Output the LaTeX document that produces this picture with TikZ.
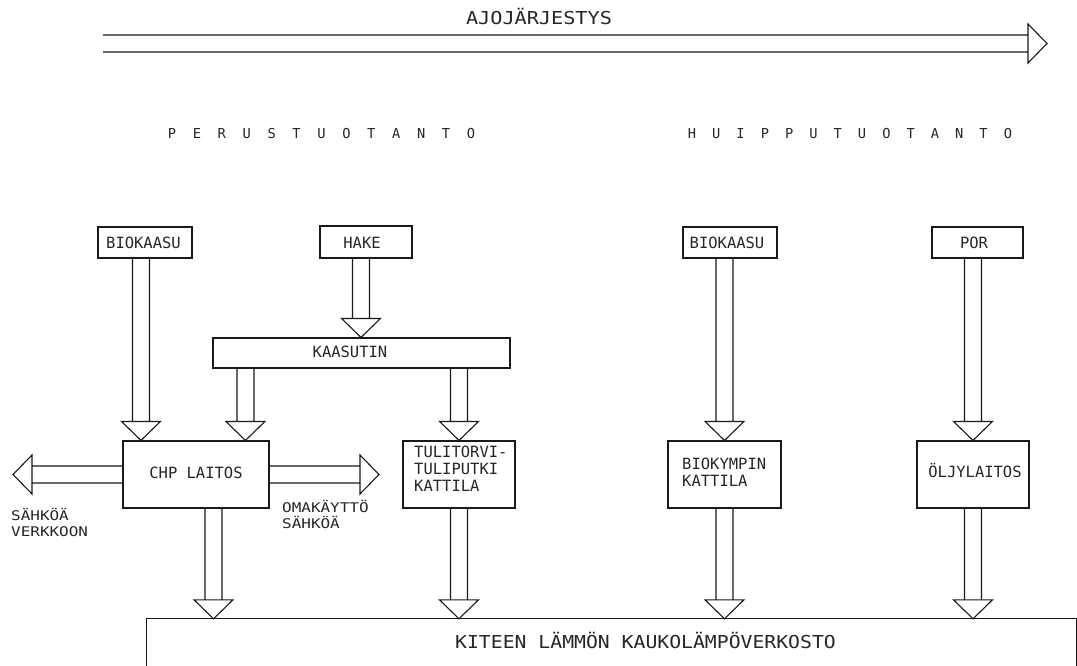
\documentclass[tikz,border=0pt]{standalone}
\usepackage{fontspec}
\newfontfamily\cadfont{DejaVu Sans Mono}
\usetikzlibrary{calc}

% hollow "pipe" arrow: two parallel shaft lines and an open triangular head
\newcommand\hollowarrow[2]{%
  \coordinate (ha-b) at ($(#2)!19pt!(#1)$);
  \draw[conn]
    ($(#1)!8.5pt!90:(#2)$) -- ($(ha-b)!8.5pt!90:(#2)$)
    ($(#1)!8.5pt!-90:(#2)$) -- ($(ha-b)!8.5pt!-90:(#2)$)
    ($(ha-b)!19.5pt!90:(#2)$) -- (#2) -- ($(ha-b)!19.5pt!-90:(#2)$) -- cycle;
}

\tikzset{
  conn/.style={draw=black!90, line width=1.1pt, line join=miter},
  box/.style={draw=black!90, line width=1.1pt, rectangle, inner sep=0pt},
  lbl/.style={inner sep=0pt, text=black!85, font=\cadfont\fontsize{15.5}{18}\selectfont},
  smalllbl/.style={inner sep=0pt, text=black!85, font=\cadfont\fontsize{13.3}{15}\selectfont},
  headlbl/.style={inner sep=0pt, text=black!85, font=\cadfont\fontsize{13.7}{16}\selectfont},
  biglbl/.style={inner sep=0pt, text=black!85, font=\cadfont\fontsize{17.8}{20}\selectfont},
}

\begin{document}
\begin{tikzpicture}[x=1pt,y=-1pt]
  \path[fill=white] (0,0) rectangle (1077,666);
  \useasboundingbox (0,0) rectangle (1077,666);

  % running order arrow
  \node[biglbl, anchor=base] (ajo) at (539,25) {\scalebox{1.135}[1]{AJOJÄRJESTYS}};
  \coordinate (ord-a) at (103,43.5);
  \coordinate (ord-b) at (1047,43.5);
  \hollowarrow{ord-a}{ord-b}

  % section headings, letter spaced
  \foreach \c [count=\i from 0] in {P,E,R,U,S,T,U,O,T,A,N,T,O}
    \node[headlbl, anchor=base] (peru-\i) at (172+24.92*\i,139) {\c};
  \foreach \c [count=\i from 0] in {H,U,I,P,P,U,T,U,O,T,A,N,T,O}
    \node[headlbl, anchor=base] (huip-\i) at (692+24.3*\i,139) {\c};

  % fuel boxes
  \node[box, minimum width=94pt, minimum height=31pt] (bio1) at (145,242.5) {};
  \node[lbl, anchor=base] (bio1-t) at (143.5,248) {BIOKAASU};
  \node[box, minimum width=92pt, minimum height=32pt] (hake) at (366,242) {};
  \node[lbl, anchor=base] (hake-t) at (362,248) {HAKE};
  \node[box, minimum width=94pt, minimum height=31pt] (bio2) at (730,242.5) {};
  \node[lbl, anchor=base] (bio2-t) at (727,248) {BIOKAASU};
  \node[box, minimum width=91pt, minimum height=31pt] (por) at (977.5,242.5) {};
  \node[lbl, anchor=base] (por-t) at (974,248) {POR};

  % gasifier
  \node[box, minimum width=297pt, minimum height=30pt] (kaasutin) at (361.5,353) {};
  \node[lbl, anchor=base] (kaasutin-t) at (350,357.7) {KAASUTIN};

  % production units
  \node[box, minimum width=146pt, minimum height=67pt] (chp) at (196,474.5) {};
  \node[lbl, anchor=base] (chp-t) at (196,478) {CHP LAITOS};
  \node[box, minimum width=112pt, minimum height=67pt] (tuli) at (459,474.5) {};
  \node[lbl, anchor=base west] (tuli-t1) at (414,457) {TULITORVI-};
  \node[lbl, anchor=base west] (tuli-t2) at (414,474) {TULIPUTKI};
  \node[lbl, anchor=base west] (tuli-t3) at (414,491) {KATTILA};
  \node[box, minimum width=113pt, minimum height=67pt] (biok) at (724.5,474.5) {};
  \node[lbl, anchor=base west] (biok-t1) at (682,469) {BIOKYMPIN};
  \node[lbl, anchor=base west] (biok-t2) at (682,486) {KATTILA};
  \node[box, minimum width=112pt, minimum height=67pt] (oljy) at (973,474.5) {};
  \node[lbl, anchor=base] (oljy-t) at (975,477) {ÖLJYLAITOS};

  % electricity outputs
  \node[smalllbl, anchor=base west] (sahko1) at (11,520) {\scalebox{1.2}[1]{SÄHKÖÄ}};
  \node[smalllbl, anchor=base west] (sahko2) at (11,536) {\scalebox{1.2}[1]{VERKKOON}};
  \node[smalllbl, anchor=base west] (oma1) at (282,512) {\scalebox{1.2}[1]{OMAKÄYTTÖ}};
  \node[smalllbl, anchor=base west] (oma2) at (282,528) {\scalebox{1.2}[1]{SÄHKÖÄ}};

  % district heating network (open at the bottom)
  \node[inner sep=0pt, minimum width=929pt, minimum height=47pt] (verkko) at (611.5,642.5) {};
  \draw[conn] (verkko.south west) -- (verkko.north west) -- (verkko.north east) -- (verkko.south east);
  \node[biglbl, anchor=base west] (verkko-t) at (455,648) {\scalebox{1.11}[1]{KITEEN LÄMMÖN KAUKOLÄMPÖVERKOSTO}};

  % fuel flows
  \coordinate (s-bio1) at ([xshift=-4pt]bio1.south);
  \hollowarrow{s-bio1}{s-bio1 |- chp.north}
  \coordinate (s-hake) at ([xshift=-5pt]hake.south);
  \hollowarrow{s-hake}{s-hake |- kaasutin.north}
  \coordinate (s-kchp) at ([xshift=33pt]kaasutin.south west);
  \hollowarrow{s-kchp}{s-kchp |- chp.north}
  \hollowarrow{kaasutin.south -| tuli.north}{tuli.north}
  \hollowarrow{bio2.south -| biok.north}{biok.north}
  \hollowarrow{por.south -| oljy.north}{oljy.north}

  % heat to the network
  \coordinate (s-chp) at ([xshift=17.5pt]chp.south);
  \hollowarrow{s-chp}{s-chp |- verkko.north}
  \hollowarrow{tuli.south}{tuli.south |- verkko.north}
  \hollowarrow{biok.south}{biok.south |- verkko.north}
  \hollowarrow{oljy.south}{oljy.south |- verkko.north}

  % electricity from the CHP plant
  \coordinate (grid) at (13,0);
  \coordinate (own) at (379,0);
  \hollowarrow{chp.west}{grid |- chp.west}
  \hollowarrow{chp.east}{own |- chp.east}
\end{tikzpicture}
\end{document}
